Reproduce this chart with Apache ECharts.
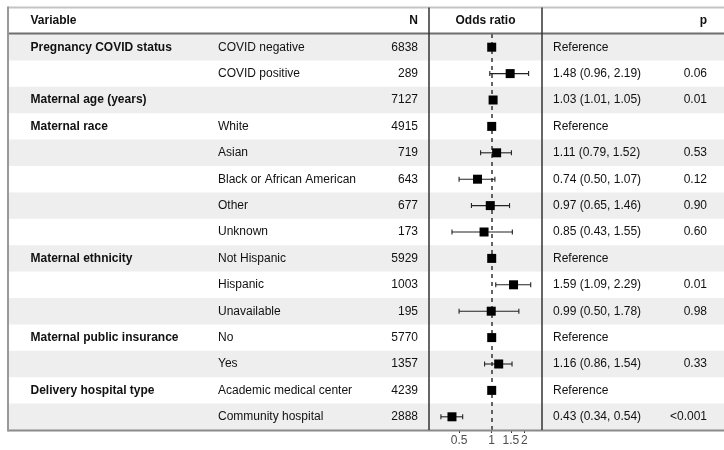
<!DOCTYPE html>
<html>
<head>
<meta charset="utf-8">
<script src="https://cdn.jsdelivr.net/npm/echarts@6/dist/echarts.min.js"></script>
<style>
  html, body { margin: 0; padding: 0; background: #fff; }
  #chart { width: 724px; height: 450px; }
</style>
</head>
<body>
<div id="chart"></div>
<script>
// Table contents, one entry per row
const variables = ['Pregnancy COVID status', '', 'Maternal age (years)', 'Maternal race', '', '', '', '',
  'Maternal ethnicity', '', '', 'Maternal public insurance', '', 'Delivery hospital type', ''];
const levels = ['COVID negative', 'COVID positive', '', 'White', 'Asian', 'Black or African American', 'Other',
  'Unknown', 'Not Hispanic', 'Hispanic', 'Unavailable', 'No', 'Yes', 'Academic medical center', 'Community hospital'];
const counts = [6838, 289, 7127, 4915, 719, 643, 677, 173, 5929, 1003, 195, 5770, 1357, 4239, 2888];
const oddsRatio = [1, 1.48, 1.03, 1, 1.11, 0.74, 0.97, 0.85, 1, 1.59, 0.99, 1, 1.16, 1, 0.43];
const ciLower = [null, 0.96, 1.01, null, 0.79, 0.50, 0.65, 0.43, null, 1.09, 0.50, null, 0.86, null, 0.34];
const ciUpper = [null, 2.19, 1.05, null, 1.52, 1.07, 1.46, 1.55, null, 2.29, 1.78, null, 1.54, null, 0.54];
const pValues = ['', '0.06', '0.01', '', '0.53', '0.12', '0.90', '0.60', '', '0.01', '0.98', '', '0.33', '', '<0.001'];
const headers = ['Variable', 'N', 'Odds ratio', 'p'];
const axisTickValues = [0.5, 1, 1.5, 2];

const rowIds = counts.map((_, i) => String(i));
const orText = oddsRatio.map((v, i) => ciLower[i] == null
  ? 'Reference'
  : v.toFixed(2) + ' (' + ciLower[i].toFixed(2) + ', ' + ciUpper[i].toFixed(2) + ')');

// Layout
const W = 724, TOP = 34, BOTTOM = 20, FRAME_L = 8, FRAME_T = 7.5, BASE_Y = 450 - BOTTOM;
const PLOT_L = 429, PLOT_R = 542;
const COL_VAR = 30.5, COL_LEVEL = 218, COL_N = 418, COL_OR = 553, COL_P = 707;
const FONT = 'Liberation Sans, Arial, sans-serif';
const TXT = '#111';

function textColumn(idx, left, labels, alignRight, bold) {
  return {
    grid: { left: alignRight ? left - 1 : left, width: 1, top: TOP, bottom: BOTTOM, containLabel: false },
    xAxis: { type: 'value', gridIndex: idx, show: false },
    yAxis: {
      type: 'category', gridIndex: idx, inverse: true, data: labels,
      position: alignRight ? 'right' : 'left',
      axisLine: { show: false }, axisTick: { show: false }, splitLine: { show: false },
      axisLabel: {
        inside: true, margin: 0, interval: 0, color: TXT, fontSize: 12, fontFamily: FONT,
        fontWeight: bold ? 'bold' : 'normal'
      }
    }
  };
}

const grids = [], xAxes = [], yAxes = [];

// 0: striped row background
grids.push({ left: FRAME_L, right: 0, top: TOP, bottom: BOTTOM });
xAxes.push({ type: 'value', gridIndex: 0, show: false });
yAxes.push({
  type: 'category', gridIndex: 0, inverse: true, data: rowIds,
  axisLine: { show: false }, axisTick: { show: false }, axisLabel: { show: false },
  splitLine: { show: false },
  splitArea: { show: true, areaStyle: { color: ['#eeeeee', 'rgba(255,255,255,0)'] } }
});

// text columns
const cols = [
  textColumn(1, COL_VAR, variables, false, true),
  textColumn(2, COL_LEVEL, levels, false, false),
  textColumn(3, COL_N, counts.map(String), true, false),
  null,
  textColumn(5, COL_OR, orText, false, false),
  textColumn(6, COL_P, pValues, true, false)
];

// 4: forest plot panel, odds ratio on a log scale, one unit per row vertically
cols[3] = {
  grid: { left: PLOT_L, right: W - PLOT_R, top: TOP, bottom: BOTTOM },
  xAxis: {
    type: 'log', gridIndex: 4, min: 0.264, max: 2.91, logBase: Math.E,
    position: 'bottom',
    axisLine: { show: false, onZero: false },
    splitLine: { show: false },
    axisTick: { show: true, length: 3, customValues: axisTickValues, lineStyle: { color: '#333', width: 1 } },
    axisLabel: {
      customValues: axisTickValues, color: '#4d4d4d', fontSize: 12, fontFamily: FONT, margin: 5,
      formatter: v => String(Math.round(v * 10) / 10)
    }
  },
  yAxis: {
    type: 'value', gridIndex: 4, inverse: true, min: -0.5, max: counts.length - 0.5, show: false
  }
};

cols.forEach(c => { grids.push(c.grid); xAxes.push(c.xAxis); yAxes.push(c.yAxis); });

const ciData = [];
oddsRatio.forEach((v, i) => { if (ciLower[i] != null) ciData.push([ciLower[i], ciUpper[i], i]); });

const barStyle = { stroke: '#222', lineWidth: 1.1 };

function headerText(x, text, align) {
  return {
    type: 'text', x: x, y: 20.5, z: 100,
    style: { text: text, font: 'bold 12px ' + FONT, fill: TXT, textVerticalAlign: 'middle', textAlign: align }
  };
}

const graphic = [
  headerText(COL_VAR, headers[0], 'left'),
  headerText(COL_N, headers[1], 'right'),
  headerText((PLOT_L + PLOT_R) / 2, headers[2], 'center'),
  headerText(COL_P, headers[3], 'right'),
  // table rules
  { type: 'line', z: 100, shape: { x1: FRAME_L, y1: FRAME_T, x2: W, y2: FRAME_T }, style: { stroke: '#c4c4c4', lineWidth: 2 } },
  { type: 'line', z: 100, shape: { x1: FRAME_L, y1: TOP - 0.5, x2: W, y2: TOP - 0.5 }, style: { stroke: '#6e6e6e', lineWidth: 2 } },
  { type: 'line', z: 100, shape: { x1: FRAME_L, y1: BASE_Y + 0.5, x2: W, y2: BASE_Y + 0.5 }, style: { stroke: '#8a8a8a', lineWidth: 2 } },
  { type: 'line', z: 100, shape: { x1: FRAME_L, y1: FRAME_T - 1, x2: FRAME_L, y2: BASE_Y + 1.5 }, style: { stroke: '#999', lineWidth: 2 } },
  { type: 'line', z: 101, shape: { x1: PLOT_L, y1: FRAME_T, x2: PLOT_L, y2: BASE_Y }, style: { stroke: '#333', lineWidth: 1.5 } },
  { type: 'line', z: 101, shape: { x1: PLOT_R, y1: FRAME_T, x2: PLOT_R, y2: BASE_Y }, style: { stroke: '#333', lineWidth: 1.5 } }
];

const option = {
  animation: false,
  backgroundColor: '#fff',
  textStyle: { fontFamily: FONT },
  grid: grids,
  xAxis: xAxes,
  yAxis: yAxes,
  graphic: graphic,
  series: [
    {
      // confidence interval whiskers
      type: 'custom',
      xAxisIndex: 4, yAxisIndex: 4,
      dimensions: ['lower', 'upper', 'row'],
      encode: { x: ['lower', 'upper'], y: 'row' },
      data: ciData,
      z: 3,
      renderItem: (params, api) => {
        const a = api.coord([api.value(0), api.value(2)]);
        const b = api.coord([api.value(1), api.value(2)]);
        const h = 2.5;
        return {
          type: 'group',
          children: [
            { type: 'line', shape: { x1: a[0], y1: a[1], x2: b[0], y2: b[1] }, style: barStyle },
            { type: 'line', shape: { x1: a[0], y1: a[1] - h, x2: a[0], y2: a[1] + h }, style: barStyle },
            { type: 'line', shape: { x1: b[0], y1: b[1] - h, x2: b[0], y2: b[1] + h }, style: barStyle }
          ]
        };
      }
    },
    {
      // point estimates, with the null line at OR = 1
      type: 'scatter',
      xAxisIndex: 4, yAxisIndex: 4,
      symbol: 'rect', symbolSize: 9,
      itemStyle: { color: '#000', opacity: 1 },
      z: 5,
      data: oddsRatio.map((v, i) => [v, i]),
      markLine: {
        silent: true, symbol: ['none', 'none'], label: { show: false },
        lineStyle: { color: '#333', width: 1.5, type: [4, 4], opacity: 1 },
        z: 1,
        data: [{ xAxis: 1 }]
      }
    }
  ]
};

const chart = echarts.init(document.getElementById('chart'), null, { renderer: 'canvas' });
chart.setOption(option);
</script>
</body>
</html>
